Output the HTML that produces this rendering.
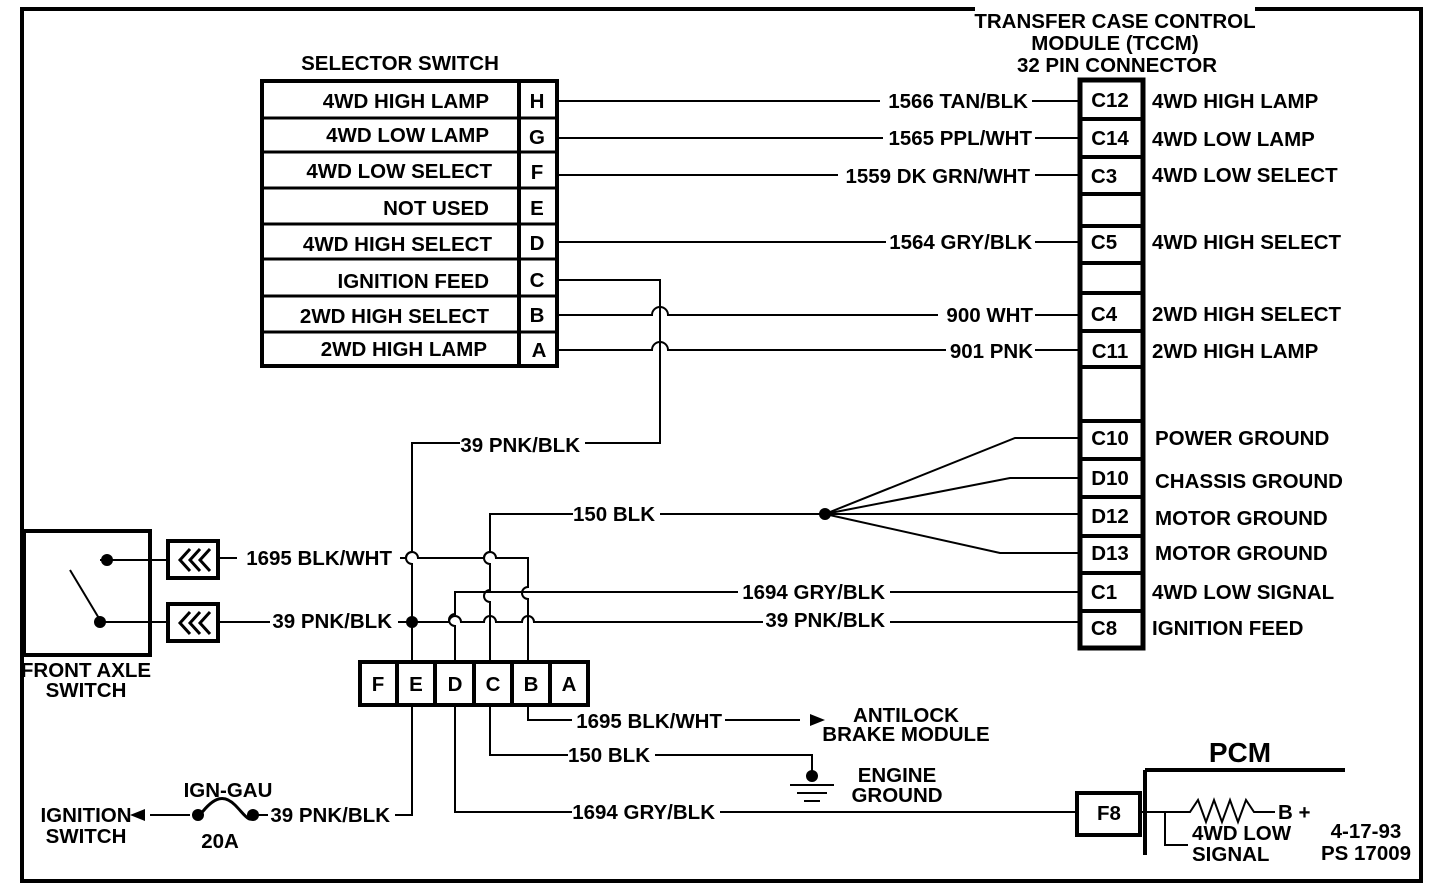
<!DOCTYPE html>
<html><head><meta charset="utf-8"><style>
html,body{margin:0;padding:0;background:#fff}
svg{display:block}
text{font-family:"Liberation Sans",sans-serif;font-weight:bold;font-size:20.5px;fill:#000}
</style></head><body>
<svg width="1440" height="892" viewBox="0 0 1440 892" xmlns="http://www.w3.org/2000/svg">
<g fill="none" stroke="#000">
<path d="M975 9 H22 V881 H1421 V9 H1255" stroke-width="4"/>
<rect x="262" y="81" width="295" height="285" stroke-width="4"/>
<line x1="519" y1="81" x2="519" y2="366" stroke-width="4"/>
<g stroke-width="3">
<line x1="262" y1="118" x2="557" y2="118"/><line x1="262" y1="152" x2="557" y2="152"/>
<line x1="262" y1="188" x2="557" y2="188"/><line x1="262" y1="224" x2="557" y2="224"/>
<line x1="262" y1="259" x2="557" y2="259"/><line x1="262" y1="296" x2="557" y2="296"/>
<line x1="262" y1="332" x2="557" y2="332"/>
</g>
<rect x="1080" y="80" width="63" height="568" stroke-width="5"/>
<g stroke-width="4">
<line x1="1080" y1="119" x2="1143" y2="119"/><line x1="1080" y1="157" x2="1143" y2="157"/>
<line x1="1080" y1="194" x2="1143" y2="194"/><line x1="1080" y1="226" x2="1143" y2="226"/>
<line x1="1080" y1="263" x2="1143" y2="263"/><line x1="1080" y1="293" x2="1143" y2="293"/>
<line x1="1080" y1="331" x2="1143" y2="331"/><line x1="1080" y1="367" x2="1143" y2="367"/>
<line x1="1080" y1="421" x2="1143" y2="421"/><line x1="1080" y1="459" x2="1143" y2="459"/>
<line x1="1080" y1="497" x2="1143" y2="497"/><line x1="1080" y1="536" x2="1143" y2="536"/>
<line x1="1080" y1="573" x2="1143" y2="573"/><line x1="1080" y1="611" x2="1143" y2="611"/>
</g>
<g stroke-width="2">
<line x1="557" y1="101" x2="880" y2="101"/><line x1="1032" y1="101" x2="1080" y2="101"/>
<line x1="557" y1="138" x2="883" y2="138"/><line x1="1035" y1="138" x2="1080" y2="138"/>
<line x1="557" y1="175" x2="838" y2="175"/><line x1="1035" y1="175" x2="1080" y2="175"/>
<line x1="557" y1="242" x2="886" y2="242"/><line x1="1035" y1="242" x2="1080" y2="242"/>
<path d="M557 280 H660 V443 H585"/><path d="M460 443 H412 V552 a6 6 0 0 0 0 12 V662"/>
<path d="M557 315 H652 a8 8 0 0 1 16 0 H938"/><line x1="1035" y1="315" x2="1080" y2="315"/>
<path d="M557 350 H652 a8 8 0 0 1 16 0 H946"/><line x1="1035" y1="350" x2="1080" y2="350"/>
<path d="M490 662 V602 a6 6 0 0 1 0 -12 V564 a6 6 0 0 1 0 -12 V514 H573"/>
<line x1="660" y1="514" x2="825" y2="514"/>
<path d="M825 514 L1015 438 H1080 M825 514 L1010 478 H1080 M825 514 H1080 M825 514 L1000 553 H1080"/>
<path d="M220 558 H237 M400 558 H406 a6 6 0 0 1 12 0 H484 a6 6 0 0 1 12 0 H528 V587 a6 6 0 0 0 0 12 V662"/>
<path d="M455 662 V626 a6 6 0 0 1 0 -12 V592 H738 M890 592 H1080"/>
<path d="M100 622 H168 M218 622 H270 M398 622 H449 a6 6 0 0 1 12 0 H484 a6 6 0 0 1 12 0 H522 a6 6 0 0 1 12 0 H763 M890 622 H1080"/>
<path d="M100 560 H168"/>
<path d="M412 705 V815 H395"/>
<path d="M455 705 V812 H572 M720 812 H1077"/>
<path d="M490 705 V755 H568 M655 755 H812 V775"/>
<path d="M528 705 V720 H572 M725 720 H800"/>
<path d="M150 815 H190 M255 815 H268"/>
<path d="M200 815 C215 795 225 795 235 805 S250 825 255 815" stroke-width="3"/>
<g stroke-width="2"><line x1="790" y1="785" x2="834" y2="785"/><line x1="797" y1="793" x2="827" y2="793"/><line x1="804" y1="801" x2="820" y2="801"/></g>
<path d="M1140 812 H1190 L1198 800 L1206 822 L1214 800 L1222 822 L1230 800 L1238 822 L1246 800 L1254 812 H1275"/>
<path d="M1165 812 V845 H1188"/>
</g>
<path d="M1145 770 H1345 M1145 770 V855" stroke-width="4"/>
<rect x="1077" y="793" width="63" height="42" stroke-width="4"/>
<rect x="24" y="531" width="126" height="124" stroke-width="4"/>
<line x1="70" y1="570" x2="100" y2="620" stroke-width="2"/>
<rect x="168" y="541" width="50" height="37" stroke-width="4"/>
<rect x="168" y="604" width="50" height="37" stroke-width="4"/>
<path d="M190 549 L180 560 L190 571 M200 549 L190 560 L200 571 M210 549 L200 560 L210 571" stroke-width="3"/>
<path d="M190 612 L180 623 L190 634 M200 612 L190 623 L200 634 M210 612 L200 623 L210 634" stroke-width="3"/>
<rect x="360" y="662" width="228" height="43" stroke-width="4"/>
<g stroke-width="4"><line x1="397" y1="662" x2="397" y2="705"/><line x1="435" y1="662" x2="435" y2="705"/><line x1="474" y1="662" x2="474" y2="705"/><line x1="512" y1="662" x2="512" y2="705"/><line x1="550" y1="662" x2="550" y2="705"/></g>
</g>
<g fill="#000">
<circle cx="107" cy="560" r="6"/><circle cx="100" cy="622" r="6"/>
<circle cx="412" cy="622" r="6"/><circle cx="825" cy="514" r="6"/>
<circle cx="812" cy="776" r="6"/><circle cx="198" cy="815" r="6"/><circle cx="253" cy="815" r="6"/>
<path d="M810 714 L825 720 L810 726Z"/><path d="M145 809 L130 815 L145 821Z"/>
</g>
<g text-anchor="middle">
<text x="1115" y="28">TRANSFER CASE CONTROL</text>
<text x="1115" y="50">MODULE (TCCM)</text>
<text x="1117" y="72">32 PIN CONNECTOR</text>
<text x="400" y="70">SELECTOR SWITCH</text>
<text x="537" y="108">H</text><text x="537" y="144">G</text><text x="537" y="179">F</text><text x="537" y="215">E</text>
<text x="537" y="250">D</text><text x="537" y="287">C</text><text x="537" y="322">B</text><text x="539" y="357">A</text>
<text x="1110" y="107">C12</text><text x="1110" y="145">C14</text><text x="1104" y="183">C3</text>
<text x="1104" y="249">C5</text><text x="1104" y="321">C4</text><text x="1110" y="358">C11</text>
<text x="1110" y="445">C10</text><text x="1110" y="485">D10</text><text x="1110" y="523">D12</text>
<text x="1110" y="560">D13</text><text x="1104" y="599">C1</text><text x="1104" y="635">C8</text>
<text x="378" y="691">F</text><text x="416" y="691">E</text><text x="455" y="691">D</text><text x="493" y="691">C</text><text x="531" y="691">B</text><text x="569" y="691">A</text>
<text x="86" y="677">FRONT AXLE</text><text x="86" y="697">SWITCH</text>
<text x="86" y="822">IGNITION</text><text x="86" y="843">SWITCH</text>
<text x="228" y="797">IGN-GAU</text><text x="220" y="848">20A</text>
<text x="906" y="722">ANTILOCK</text><text x="906" y="741">BRAKE MODULE</text>
<text x="897" y="782">ENGINE</text><text x="897" y="802">GROUND</text>
<text x="1109" y="820">F8</text>
<text x="1240" y="762" style="font-size:28px">PCM</text>
<text x="1366" y="838">4-17-93</text><text x="1366" y="860">PS 17009</text>
</g>
<g text-anchor="end">
<text x="489" y="108">4WD HIGH LAMP</text><text x="489" y="142">4WD LOW LAMP</text>
<text x="492" y="178">4WD LOW SELECT</text><text x="489" y="215">NOT USED</text>
<text x="492" y="251">4WD HIGH SELECT</text><text x="489" y="288">IGNITION FEED</text>
<text x="489" y="323">2WD HIGH SELECT</text><text x="487" y="356">2WD HIGH LAMP</text>
<text x="1028" y="108">1566 TAN/BLK</text><text x="1032" y="145">1565 PPL/WHT</text>
<text x="1030" y="183">1559 DK GRN/WHT</text><text x="1032" y="249">1564 GRY/BLK</text>
<text x="1033" y="322">900 WHT</text><text x="1033" y="358">901 PNK</text>
<text x="580" y="452">39 PNK/BLK</text><text x="655" y="521">150 BLK</text>
<text x="392" y="565">1695 BLK/WHT</text><text x="392" y="628">39 PNK/BLK</text>
<text x="885" y="599">1694 GRY/BLK</text><text x="885" y="627">39 PNK/BLK</text>
<text x="722" y="728">1695 BLK/WHT</text><text x="650" y="762">150 BLK</text>
<text x="715" y="819">1694 GRY/BLK</text><text x="390" y="822">39 PNK/BLK</text>
</g>
<g>
<text x="1152" y="108">4WD HIGH LAMP</text><text x="1152" y="146">4WD LOW LAMP</text>
<text x="1152" y="182">4WD LOW SELECT</text><text x="1152" y="249">4WD HIGH SELECT</text>
<text x="1152" y="321">2WD HIGH SELECT</text><text x="1152" y="358">2WD HIGH LAMP</text>
<text x="1155" y="445">POWER GROUND</text><text x="1155" y="488">CHASSIS GROUND</text>
<text x="1155" y="525">MOTOR GROUND</text><text x="1155" y="560">MOTOR GROUND</text>
<text x="1152" y="599">4WD LOW SIGNAL</text><text x="1152" y="635">IGNITION FEED</text>
<text x="1278" y="819">B +</text>
<text x="1192" y="840">4WD LOW</text><text x="1192" y="861">SIGNAL</text>
</g>
</svg>
</body></html>
